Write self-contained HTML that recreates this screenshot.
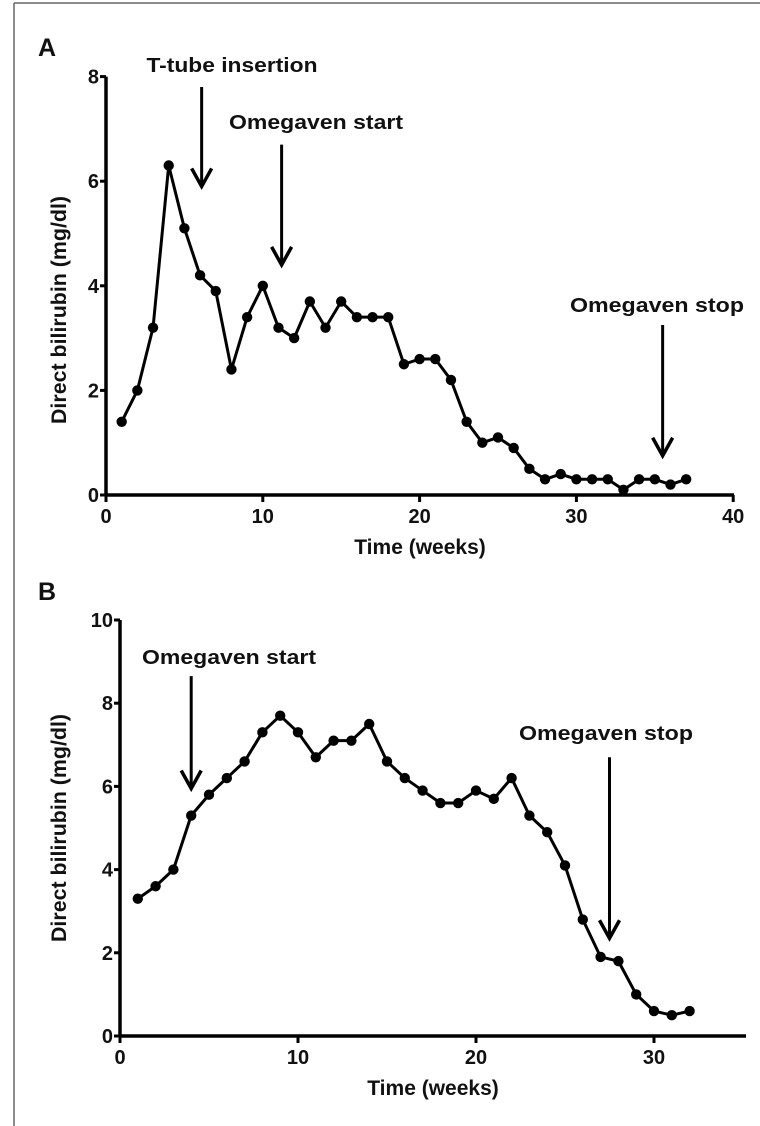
<!DOCTYPE html>
<html><head><meta charset="utf-8">
<style>
html,body{margin:0;padding:0;background:#fff;}
svg{display:block;}
text{font-family:"Liberation Sans",Arial,sans-serif;font-weight:bold;fill:#111;}
</style></head>
<body>
<svg id="chart" width="760" height="1126" viewBox="0 0 760 1126">
  <line x1="14" y1="3" x2="14" y2="1126" stroke="#666" stroke-width="1.5"/>
  <line x1="14" y1="3" x2="760" y2="3" stroke="#666" stroke-width="1.5"/>
  <text x="38" y="56" font-size="25">A</text>
  <text x="38" y="600" font-size="25">B</text>
  <g id="pa"></g>
  <g id="pb"></g>
</svg>
<script>
const weeksA = [1,2,3,4,5,6,7,8,9,10,11,12,13,14,15,16,17,18,19,20,21,22,23,24,25,26,27,28,29,30,31,32,33,34,35,36,37];
const valuesA = [1.4,2.0,3.2,6.3,5.1,4.2,3.9,2.4,3.4,4.0,3.2,3.0,3.7,3.2,3.7,3.4,3.4,3.4,2.5,2.6,2.6,2.2,1.4,1.0,1.1,0.9,0.5,0.3,0.4,0.3,0.3,0.3,0.1,0.3,0.3,0.2,0.3];
const xTicksA = [0,10,20,30,40];
const yTicksA = [0,2,4,6,8];
const weeksB = [1,2,3,4,5,6,7,8,9,10,11,12,13,14,15,16,17,18,19,20,21,22,23,24,25,26,27,28,29,30,31,32];
const valuesB = [3.3,3.6,4.0,5.3,5.8,6.2,6.6,7.3,7.7,7.3,6.7,7.1,7.1,7.5,6.6,6.2,5.9,5.6,5.6,5.9,5.7,6.2,5.3,4.9,4.1,2.8,1.9,1.8,1.0,0.6,0.5,0.6];
const xTicksB = [0,10,20,30];
const yTicksB = [0,2,4,6,8,10];
const annotationsA = [
  {label:"T-tube insertion", week:6.1, fromVal:7.8, toVal:5.9, tx:232, ty:72, len:171},
  {label:"Omegaven start", week:11.2, fromVal:6.7, toVal:4.4, tx:316, ty:129, len:174},
  {label:"Omegaven stop", week:35.5, fromVal:3.25, toVal:0.75, tx:657, ty:312, len:174}
];
const annotationsB = [
  {label:"Omegaven start", week:4.0, fromVal:8.65, toVal:5.95, tx:229, ty:664, len:174},
  {label:"Omegaven stop", week:27.5, fromVal:6.7, toVal:2.35, tx:606, ty:740, len:174}
];
const NS = "http://www.w3.org/2000/svg";
function mk(parent, tag, attrs){
  const e = document.createElementNS(NS, tag);
  for (const k in attrs) e.setAttribute(k, attrs[k]);
  parent.appendChild(e);
  return e;
}
function panel(g, cfg, weeks, values, xTicks, yTicks, notes){
  const sx = w => cfg.x0 + w*cfg.xs;
  const sy = v => cfg.y0 - v*cfg.ys;
  const yTop = sy(yTicks[yTicks.length-1]);
  const ya = mk(g,'line',{x1:cfg.x0,y1:yTop,x2:cfg.x0,y2:cfg.y0,stroke:'#000','stroke-width':3.5});
  
  
  const xa = mk(g,'line',{x1:cfg.x0,y1:cfg.y0,x2:cfg.xEnd,y2:cfg.y0,stroke:'#000','stroke-width':3.5});
  
  
  yTicks.forEach(v=>{
    const t = mk(g,'line',{x1:cfg.x0-6,y1:sy(v),x2:cfg.x0,y2:sy(v),stroke:'#000','stroke-width':3});
    
    
    const l = mk(g,'text',{x:cfg.x0-7,y:sy(v)+7,'font-size':20,'text-anchor':'end'});
    l.textContent = v;
    
    
  });
  xTicks.forEach(v=>{
    const t = mk(g,'line',{x1:sx(v),y1:cfg.y0,x2:sx(v),y2:cfg.y0+7,stroke:'#000','stroke-width':3});
    
    
    const l = mk(g,'text',{x:sx(v),y:cfg.y0+28,'font-size':20,'text-anchor':'middle'});
    l.textContent = v;
    
    
  });
  const xt = mk(g,'text',{x:cfg.xTitle,y:cfg.y0+59,'font-size':21,'text-anchor':'middle'});
  xt.textContent = 'Time (weeks)';
  
  
  const yt = mk(g,'text',{x:0,y:0,'font-size':21,'text-anchor':'middle',textLength:228,lengthAdjust:'spacingAndGlyphs',transform:`translate(${cfg.yTitleX},${cfg.yTitleY}) rotate(-90)`});
  yt.textContent = 'Direct bilirubin (mg/dl)';
  
  
  const pts = weeks.map((w,i)=>sx(w)+','+sy(values[i])).join(' ');
  const pl = mk(g,'polyline',{points:pts,fill:'none',stroke:'#000','stroke-width':3,'stroke-linejoin':'round'});
  
  
  weeks.forEach((w,i)=>{
    const c = mk(g,'circle',{cx:sx(w),cy:sy(values[i]),r:5.2,fill:'#000'});
    
    
  });
  notes.forEach(n=>{
    const x = sx(n.week), y1 = sy(n.fromVal), y2 = sy(n.toVal);
    const t = mk(g,'text',{x:n.tx,y:n.ty,'font-size':20,'text-anchor':'middle',textLength:n.len,lengthAdjust:'spacingAndGlyphs'});
    t.textContent = n.label;
    
    
    const a = mk(g,'line',{x1:x,y1:y1,x2:x,y2:y2-1,stroke:'#000','stroke-width':3});
    
    
    const h = mk(g,'polyline',{points:`${x-10},${y2-18} ${x},${y2} ${x+10},${y2-18}`,fill:'none',stroke:'#000','stroke-width':3.5});
    
    
  });
}
panel(document.getElementById('pa'),
  {x0:106,y0:495,xs:15.68,ys:52.3,xEnd:734,xTitle:420,yTitleX:66,yTitleY:310},
  weeksA, valuesA, xTicksA, yTicksA, annotationsA);
panel(document.getElementById('pb'),
  {x0:120,y0:1036,xs:17.8,ys:41.6,xEnd:746,xTitle:433,yTitleX:66,yTitleY:828},
  weeksB, valuesB, xTicksB, yTicksB, annotationsB);
</script>
</body></html>
